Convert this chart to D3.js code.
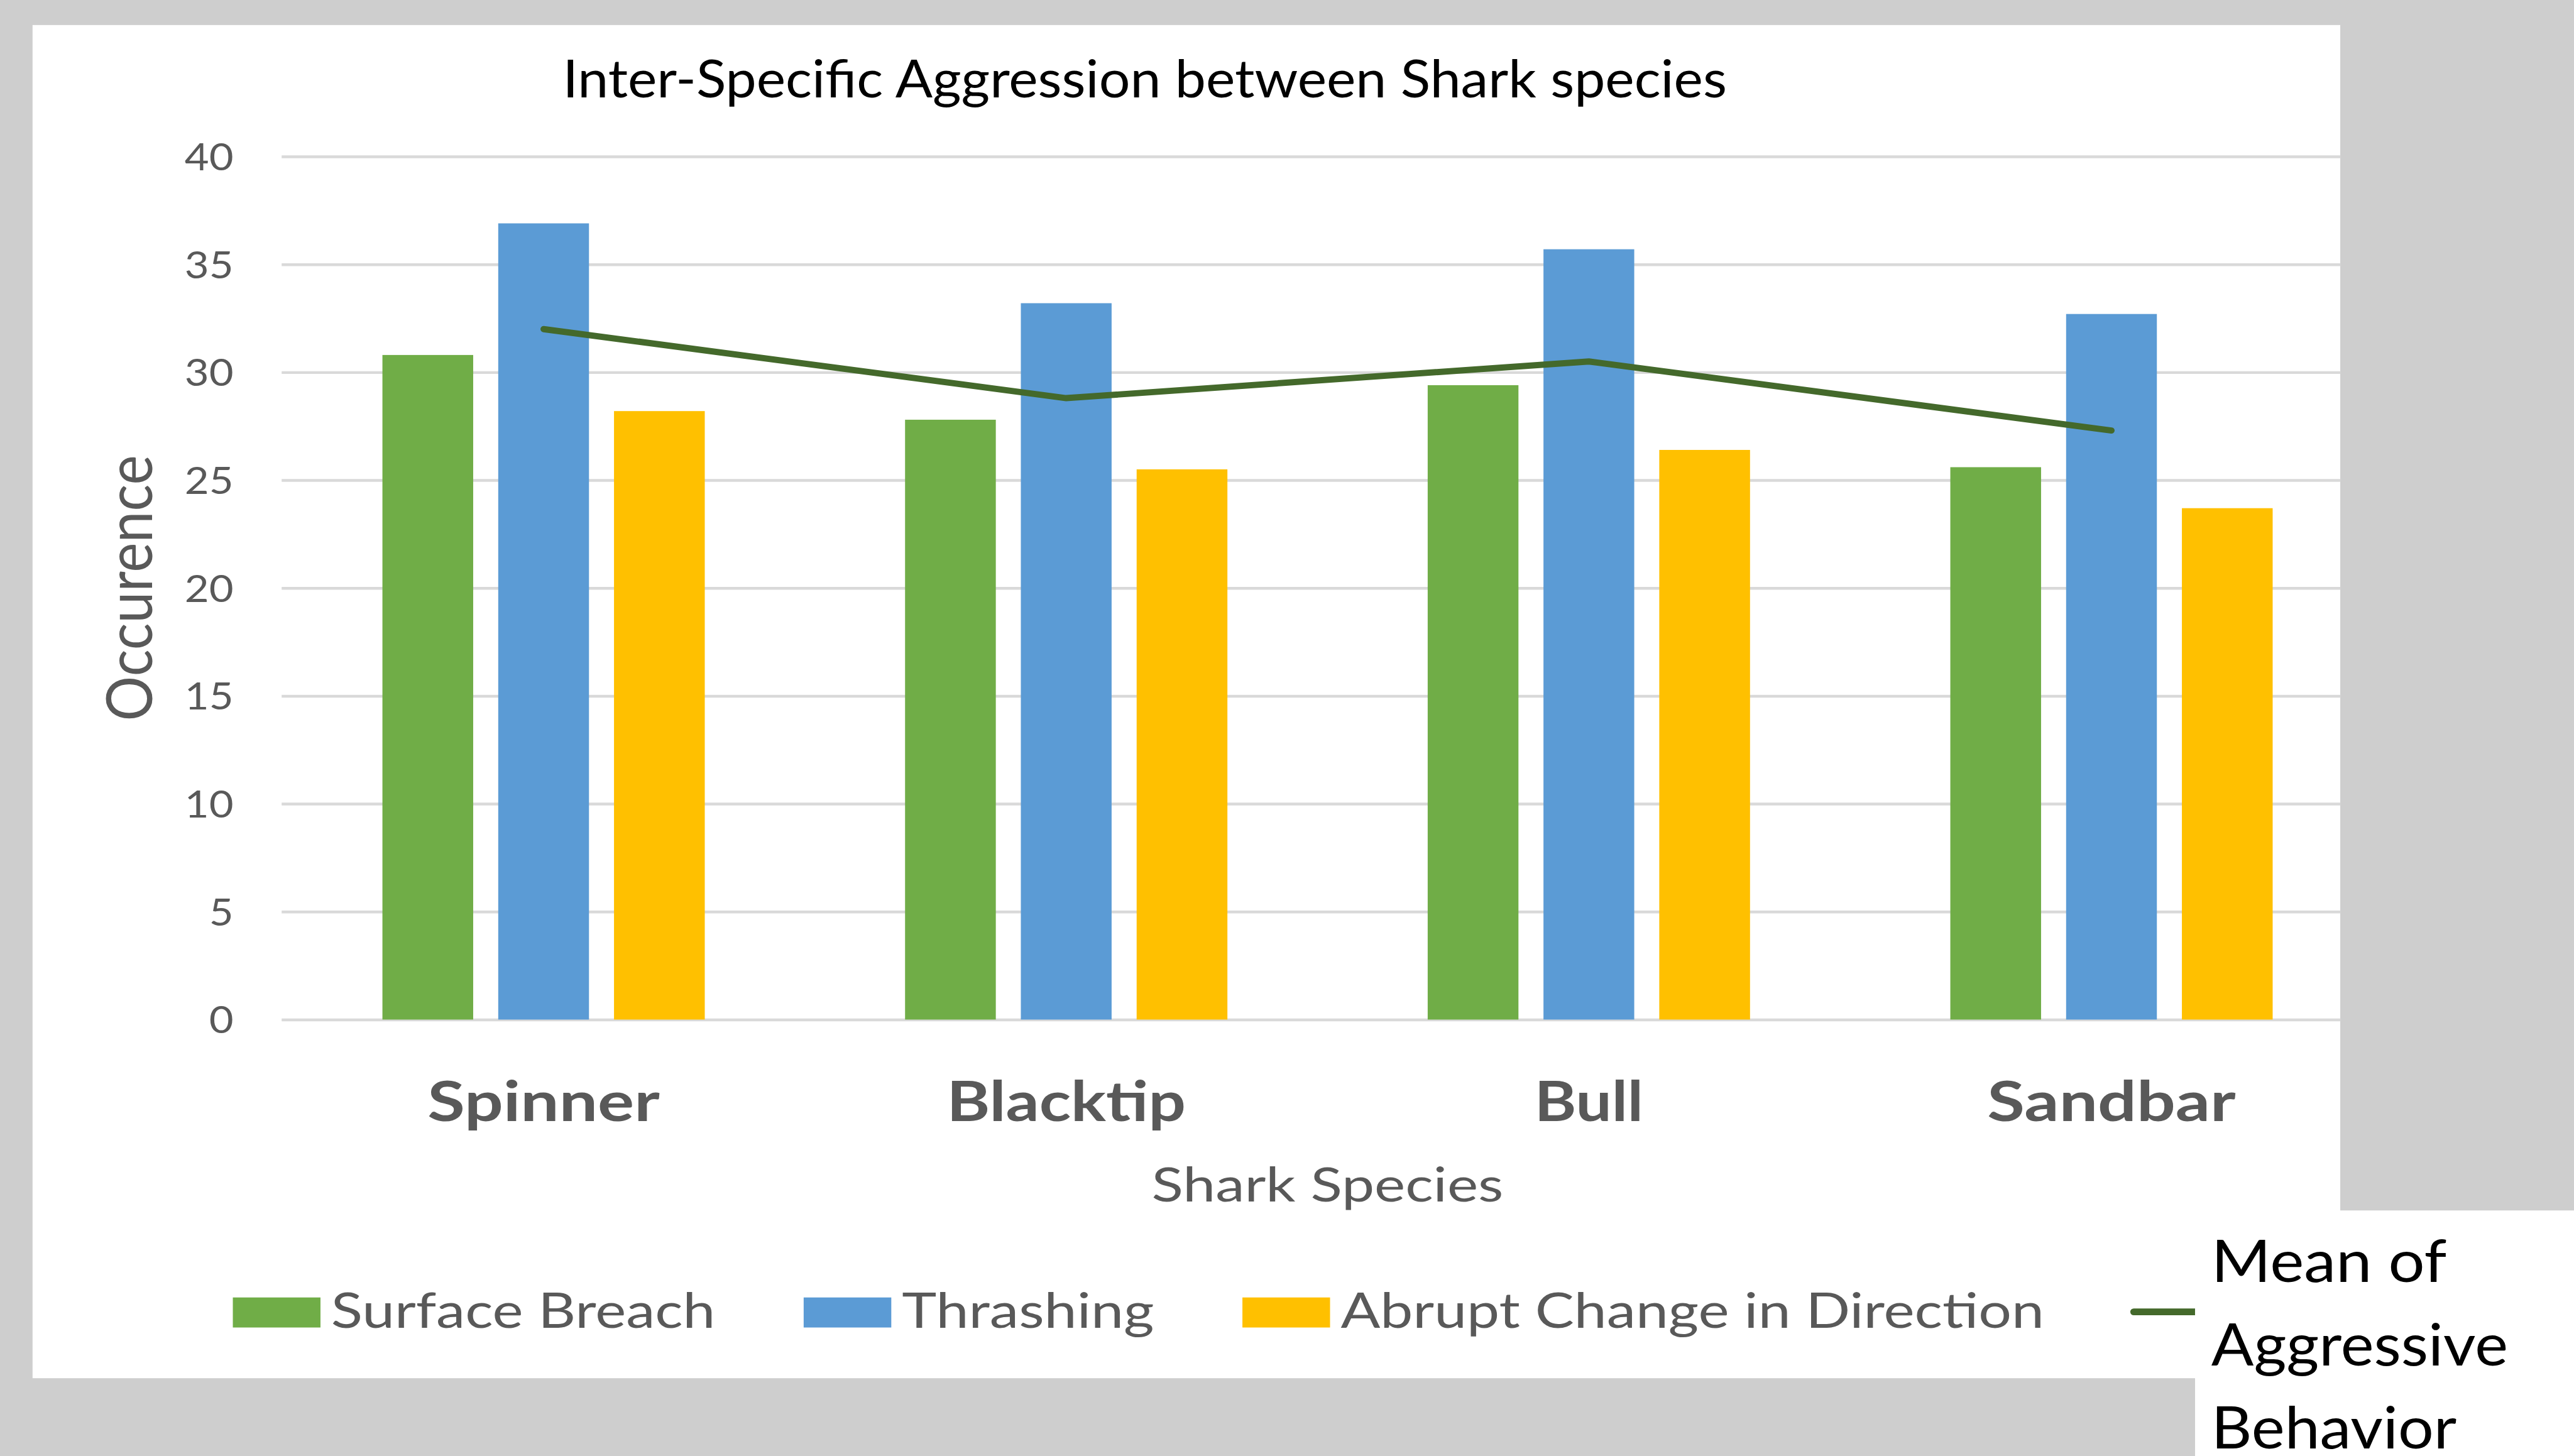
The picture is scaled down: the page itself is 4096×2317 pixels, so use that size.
<!DOCTYPE html>
<html><head><meta charset="utf-8">
<script src="https://cdn.jsdelivr.net/npm/d3@7"></script>
<style>html,body{margin:0;padding:0;background:#cecece;overflow:hidden}</style>
</head><body>
<svg id="c" width="4096" height="2317"></svg>
<script>
// ---- data ----
const categories = ["Spinner", "Blacktip", "Bull", "Sandbar"];
const seriesNames = ["Surface Breach", "Thrashing", "Abrupt Change in Direction"];
const surfaceBreach = [30.8, 27.8, 29.4, 25.6];
const thrashing = [36.9, 33.2, 35.7, 32.7];
const abruptChange = [28.2, 25.5, 26.4, 23.7];
const meanAggressive = [32.0, 28.8, 30.5, 27.3];
const meanLabelLines = ["Mean of", "Aggressive", "Behavior"];
const yTicks = [0, 5, 10, 15, 20, 25, 30, 35, 40];
const chartTitle = "Inter-Specific Aggression between Shark species";
const xAxisTitle = "Shark Species";
const yAxisTitle = "Occurence";

// ---- styles ----
const barColors = ["#70AD47", "#5B9BD5", "#FFC000"];
const meanColor = "#44692B";
const gridColor = "#D9D9D9";
const textGray = "#595959";
const bgGray = "#CECECE";
const FONT = "Lato, 'Open Sans', 'Liberation Sans', sans-serif";

const seriesValues = [surfaceBreach, thrashing, abruptChange];

const svg = d3.select("#c");
svg.append("rect").attr("width", 4096).attr("height", 2317).attr("fill", bgGray);
const root = svg.append("g").attr("transform", "scale(0.996)");

function fit(sel, w) { return sel.attr("textLength", w).attr("lengthAdjust", "spacingAndGlyphs"); }

// white chart panel
const panel = {x0: 52, y0: 40, x1: 3739, y1: 2202};
root.append("rect").attr("x", panel.x0).attr("y", panel.y0)
  .attr("width", panel.x1 - panel.x0).attr("height", panel.y1 - panel.y0).attr("fill", "#fff");
root.append("clipPath").attr("id", "pclip").append("rect")
  .attr("x", panel.x0).attr("y", panel.y0)
  .attr("width", panel.x1 - panel.x0).attr("height", panel.y1 - panel.y0);
const g = root.append("g").attr("clip-path", "url(#pclip)");

// scales
const plotLeft = 451, plotRight = 3791, plotTop = 250, plotBottom = 1629;
const x0 = d3.scaleBand().domain(categories).range([plotLeft, plotRight]).padding(0);
const x1 = d3.scaleBand().domain(seriesNames).range([160, 675]).paddingInner(40 / 185).paddingOuter(0);
const y = d3.scaleLinear().domain([0, 40]).range([plotBottom, plotTop]);

// y axis with gridlines
const yAxis = g.append("g").attr("transform", `translate(${plotLeft - 1},0)`)
  .call(d3.axisLeft(y).tickValues(yTicks).tickSize(-(plotRight - plotLeft + 1)).tickPadding(77));
yAxis.select(".domain").remove();
yAxis.selectAll(".tick line").attr("stroke", gridColor).attr("stroke-width", 4.5);
yAxis.selectAll(".tick text")
  .attr("fill", textGray).attr("font-family", FONT).attr("font-size", 60)
  .attr("dy", "0.36em")
  .each(function () { const t = d3.select(this); fit(t, 39 * t.text().length); });

// bars
const barG = g.append("g");
categories.forEach((cat, ci) => {
  seriesNames.forEach((s, si) => {
    const v = seriesValues[si][ci];
    barG.append("rect")
      .attr("x", x0(cat) + x1(s)).attr("width", x1.bandwidth())
      .attr("y", y(v)).attr("height", y(0) - y(v))
      .attr("fill", barColors[si]);
  });
});

// mean line
const line = d3.line().x((d, i) => x0(categories[i]) + x0.bandwidth() / 2).y(d => y(d));
g.append("path").datum(meanAggressive).attr("d", line)
  .attr("fill", "none").attr("stroke", meanColor).attr("stroke-width", 10)
  .attr("stroke-linecap", "round").attr("stroke-linejoin", "round");

// category axis
const xAxis = g.append("g").attr("transform", `translate(0,${plotBottom})`)
  .call(d3.axisBottom(x0).tickSize(0).tickPadding(0));
xAxis.select(".domain").remove();
const catWidths = {Spinner: 371, Blacktip: 382, Bull: 174, Sandbar: 397};
xAxis.selectAll(".tick text")
  .attr("y", 162).attr("dy", 0)
  .attr("fill", textGray).attr("font-family", FONT).attr("font-size", 89).attr("font-weight", "bold")
  .each(function (d) { fit(d3.select(this), catWidths[d]); });

// title
fit(root.append("text").attr("x", 899).attr("y", 156)
  .attr("font-family", FONT).attr("font-size", 84).attr("fill", "#000")
  .text(chartTitle), 1860);

// x axis title
fit(root.append("text").attr("x", (plotLeft + plotRight) / 2).attr("y", 1920)
  .attr("text-anchor", "middle").attr("font-family", FONT).attr("font-size", 75).attr("fill", textGray)
  .text(xAxisTitle), 562);

// y axis title
fit(root.append("text").attr("transform", `translate(243,${(plotTop + plotBottom) / 2}) rotate(-90)`)
  .attr("text-anchor", "middle").attr("font-family", FONT).attr("font-size", 102).attr("fill", textGray)
  .text(yAxisTitle), 425);

// legend (bars)
const legendTextWidths = [614, 403, 1124];
let lx = 372;
const legG = root.append("g");
seriesNames.forEach((s, i) => {
  legG.append("rect").attr("x", lx).attr("y", 2073).attr("width", 140).attr("height", 48).attr("fill", barColors[i]);
  fit(legG.append("text").attr("x", lx + 157).attr("y", 2121)
    .attr("font-family", FONT).attr("font-size", 77).attr("fill", textGray).text(s), legendTextWidths[i]);
  lx += 157 + legendTextWidths[i] + 141;
});
// legend (mean line)
legG.append("line").attr("x1", 3409).attr("x2", 3530).attr("y1", 2096).attr("y2", 2096)
  .attr("stroke", meanColor).attr("stroke-width", 11).attr("stroke-linecap", "round");

// white legend box on the right
root.append("rect").attr("x", 3507).attr("y", 1934).attr("width", 700).attr("height", 500).attr("fill", "#fff");
const meanWidths = [376, 474, 392];
const meanBaselines = [2048, 2182, 2314];
meanLabelLines.forEach((t, i) => {
  fit(root.append("text").attr("x", 3533).attr("y", meanBaselines[i])
    .attr("font-family", FONT).attr("font-size", 94).attr("fill", "#000").text(t), meanWidths[i]);
});
</script>
</body></html>
